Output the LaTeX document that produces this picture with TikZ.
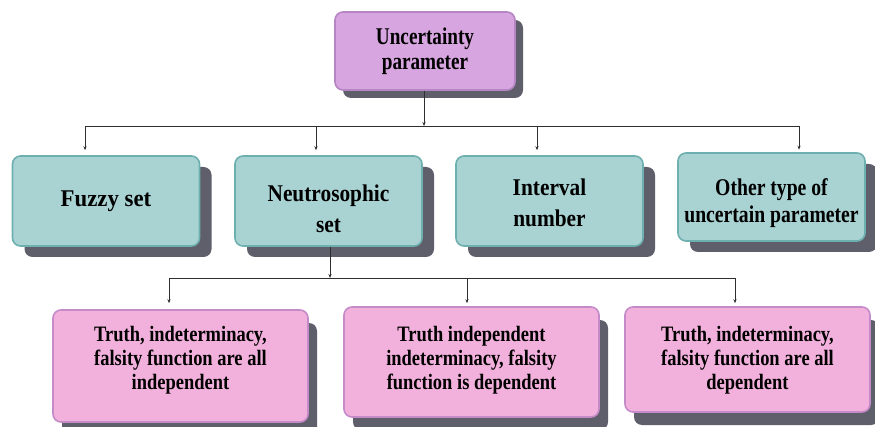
\documentclass[tikz,border=0pt]{standalone}
\usepackage{fontspec}
\setmainfont{Liberation Serif}
\newfontfamily\topfont{Liberation Serif}[FakeStretch=0.80]
\newfontfamily\midfont{Liberation Serif}[FakeStretch=0.89]
\newfontfamily\fuzzyfont{Liberation Serif}[FakeStretch=0.95]
\newfontfamily\otherfont{Liberation Serif}[FakeStretch=0.82]
\newfontfamily\lowfont{Liberation Serif}[FakeStretch=0.84]
\usetikzlibrary{arrows.meta,shadows}

\definecolor{topfill}{HTML}{D7A5DF}
\definecolor{topline}{HTML}{B585C4}
\definecolor{tealfill}{HTML}{A9D2D3}
\definecolor{tealline}{HTML}{6DB0AF}
\definecolor{pinkfill}{HTML}{F2B1DC}
\definecolor{pinkline}{HTML}{C48BC8}
\definecolor{shadowc}{HTML}{5F5E6B}
\definecolor{wirec}{HTML}{2E2E2E}

\begin{document}
\begin{tikzpicture}[x=1pt,y=-1pt,
  box/.style={rounded corners=8pt, line width=1.6pt, align=center, inner sep=0pt},
  topbox/.style={box, fill=topfill, draw=topline,
    minimum width=180pt, minimum height=78pt,
    drop shadow={shadow xshift=8pt, shadow yshift=-8pt, fill=shadowc, opacity=1},
    font={\topfont\bfseries\fontsize{24}{25}\selectfont}},
  tealbox/.style={box, fill=tealfill, draw=tealline,
    minimum width=187pt, minimum height=90pt,
    drop shadow={shadow xshift=12pt, shadow yshift=-11pt, fill=shadowc, opacity=1}},
  pinkbox/.style={box, fill=pinkfill, draw=pinkline,
    minimum width=255pt, minimum height=110pt,
    drop shadow={shadow xshift=9pt, shadow yshift=-13pt, fill=shadowc, opacity=1}},
  tealtext/.style={align=center, inner sep=0pt,
    font={\midfont\bfseries\fontsize{24}{31}\selectfont}},
  pinktext/.style={align=center, inner sep=0pt,
    font={\lowfont\bfseries\fontsize{22}{24}\selectfont}},
  wire/.style={draw=wirec, line width=0.8pt},
  arr/.style={wire, -{Stealth[length=4pt,width=3.2pt]}}
]
\useasboundingbox (0,0) rectangle (875,427);

% root
\node[topbox] (unc) at (425,51) {Uncertainty\\parameter};

% second level
\node[tealbox, font={\fuzzyfont\bfseries\fontsize{24}{30}\selectfont}] (fuzzy) at (106,201) {Fuzzy set};
\node[tealbox] (neutro) at (328.5,201) {};
\node[tealbox] (interval) at (549.5,201) {};
\node[tealbox, minimum height=88pt] (other) at (771.5,197) {};
\node[tealtext] (neutro-t) at (328.5,209) {Neutrosophic\\set};
\node[tealtext] (interval-t) at (549.5,203) {Interval\\number};
\node[tealtext, font={\otherfont\bfseries\fontsize{24}{27}\selectfont}] (other-t) at (771.5,203) {Other type of\\uncertain parameter};

% third level
\node[pinkbox, minimum height=112pt] (indep) at (180.5,366) {};
\node[pinkbox] (mixed) at (471.5,362) {};
\node[pinkbox, minimum width=245pt, minimum height=105pt] (dep) at (747.5,359.5) {};
\node[pinktext] (indep-t) at (180.5,360.5) {Truth, indeterminacy,\\falsity function are all\\independent};
\node[pinktext] (mixed-t) at (471.5,360.5) {Truth independent\\indeterminacy, falsity\\function is dependent};
\node[pinktext] (dep-t) at (747.5,360.5) {Truth, indeterminacy,\\falsity function are all\\dependent};

% upper bus
\coordinate (busA) at (85,126);
\coordinate (busB) at (316,126);
\coordinate (busC) at (537,126);
\coordinate (busD) at (799,126);
\coordinate (busTop) at (424,126);
\draw[wire] (busA) -- (busD);
\draw[arr] (unc.south -| busTop) -- (busTop);
\draw[arr, shorten >=5pt] (busA) -- (busA |- fuzzy.north);
\draw[arr, shorten >=5pt] (busB) -- (busB |- neutro.north);
\draw[arr, shorten >=5pt] (busC) -- (busC |- interval.north);
\draw[arr, shorten >=2.5pt] (busD) -- (busD |- other.north);

% lower bus
\coordinate (lowA) at (169,278);
\coordinate (lowB) at (467,278);
\coordinate (lowC) at (735,278);
\coordinate (lowTop) at (330,278);
\draw[wire] (lowA) -- (lowC);
\draw[arr] (neutro.south -| lowTop) -- (lowTop);
\draw[arr, shorten >=6pt] (lowA) -- (lowA |- indep.north);
\draw[arr, shorten >=3pt] (lowB) -- (lowB |- mixed.north);
\draw[arr, shorten >=3pt] (lowC) -- (lowC |- dep.north);
\end{tikzpicture}
\end{document}
